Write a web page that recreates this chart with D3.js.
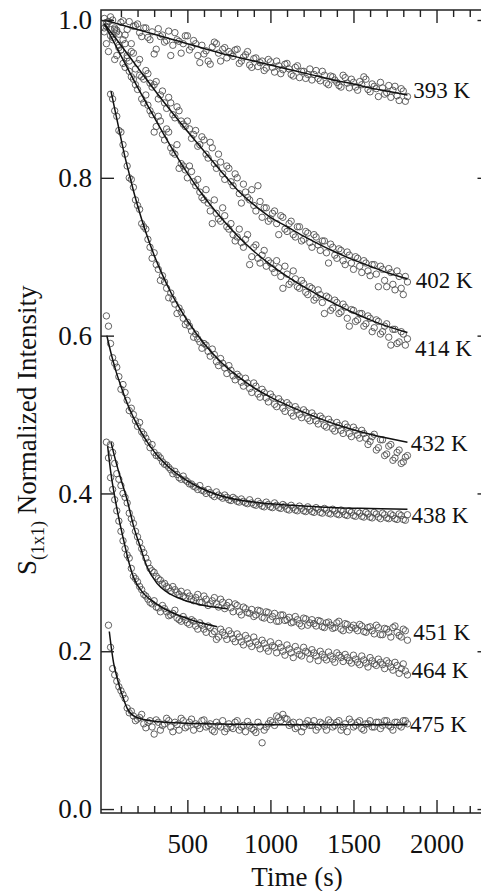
<!DOCTYPE html>
<html>
<head>
<meta charset="utf-8">
<script src="https://cdn.jsdelivr.net/npm/d3@7"></script>
<style>
  html, body { margin: 0; padding: 0; background: #fff; }
  svg { display: block; }
  text { font-family: "Liberation Serif", "Times New Roman", serif; fill: #111; }
</style>
</head>
<body>
<div id="container"></div>
<script>
// sample times (s): two interleaved sets
const times = [0,25,50,75,100,125,150,175,200,225,250,275,300,325,350,375,400,425,450,475,500,525,550,575,600,625,650,675,700,725,750,775,800,825,850,875,900,925,950,975,1000,1025,1050,1075,1100,1125,1150,1175,1200,1225,1250,1275,1300,1325,1350,1375,1400,1425,1450,1475,1500,1525,1550,1575,1600,1625,1650,1675,1700,1725,1750,1775,1800,1825];
const timesB = [12.5,37.5,62.5,87.5,112.5,137.5,162.5,187.5,212.5,237.5,262.5,287.5,312.5,337.5,362.5,387.5,412.5,437.5,462.5,487.5,512.5,537.5,562.5,587.5,612.5,637.5,662.5,687.5,712.5,737.5,762.5,787.5,812.5,837.5,862.5,887.5,912.5,937.5,962.5,987.5,1012.5,1037.5,1062.5,1087.5,1112.5,1137.5,1162.5,1187.5,1212.5,1237.5,1262.5,1287.5,1312.5,1337.5,1362.5,1387.5,1412.5,1437.5,1462.5,1487.5,1512.5,1537.5,1562.5,1587.5,1612.5,1637.5,1662.5,1687.5,1712.5,1737.5,1762.5,1787.5,1812.5];

const temps = ["393 K", "402 K", "414 K", "432 K", "438 K", "451 K", "464 K", "475 K"];

// measured intensities at `times`
const s393 = [1.002,0.998,1.000,0.987,0.997,0.981,0.998,0.992,0.995,0.979,
  0.990,0.975,0.957,0.989,0.981,0.974,0.955,0.984,0.973,0.970,
  0.980,0.966,0.970,0.946,0.957,0.948,0.966,0.970,0.948,0.965,
  0.960,0.954,0.963,0.948,0.956,0.943,0.951,0.941,0.948,0.939,
  0.947,0.934,0.942,0.937,0.945,0.931,0.940,0.927,0.935,0.931,
  0.924,0.936,0.923,0.930,0.918,0.928,0.921,0.915,0.927,0.914,
  0.921,0.911,0.918,0.925,0.909,0.916,0.903,0.914,0.908,0.902,
  0.916,0.898,0.910,0.903];
const s402 = [0.990,0.998,0.975,0.985,0.962,0.970,0.948,0.958,0.945,0.928,
  0.936,0.920,0.918,0.900,0.910,0.888,0.895,0.876,0.885,0.868,
  0.872,0.850,0.860,0.842,0.848,0.825,0.838,0.812,0.820,0.798,
  0.812,0.790,0.800,0.768,0.782,0.772,0.765,0.790,0.750,0.762,
  0.748,0.758,0.728,0.750,0.732,0.745,0.725,0.738,0.722,0.730,
  0.712,0.725,0.708,0.720,0.692,0.712,0.698,0.708,0.690,0.702,
  0.684,0.698,0.680,0.692,0.676,0.690,0.662,0.684,0.662,0.680,
  0.658,0.675,0.652,0.668];
const s414 = [0.985,0.960,0.978,0.955,0.962,0.940,0.935,0.925,0.912,0.900,
  0.905,0.885,0.858,0.878,0.855,0.862,0.838,0.830,0.812,0.815,
  0.800,0.808,0.790,0.782,0.772,0.768,0.742,0.755,0.745,0.752,
  0.735,0.728,0.725,0.718,0.722,0.690,0.712,0.698,0.702,0.688,
  0.692,0.680,0.686,0.660,0.678,0.668,0.672,0.660,0.666,0.652,
  0.660,0.648,0.652,0.628,0.648,0.635,0.642,0.630,0.636,0.612,
  0.632,0.620,0.628,0.615,0.622,0.610,0.618,0.605,0.615,0.588,
  0.608,0.592,0.602,0.596];
const s432 = [null,null,0.900,0.878,0.858,0.830,0.800,0.788,0.765,0.742,
  0.735,0.712,0.705,0.684,0.676,0.660,0.654,0.640,0.635,0.622,
  0.617,0.606,0.602,0.592,0.590,0.580,0.583,0.567,0.571,0.559,
  0.562,0.549,0.551,0.541,0.546,0.533,0.540,0.526,0.532,0.521,
  0.526,0.513,0.520,0.508,0.515,0.502,0.510,0.500,0.506,0.495,
  0.502,0.492,0.498,0.486,0.494,0.482,0.490,0.480,0.488,0.476,
  0.484,0.474,0.480,0.470,0.466,0.475,0.458,0.468,0.450,0.462,
  0.445,0.455,0.440,0.448];
const s438 = [null,0.612,0.572,0.560,0.532,0.528,0.505,0.500,0.485,0.478,
  0.470,0.458,0.452,0.448,0.440,0.436,0.430,0.428,0.420,0.422,
  0.415,0.412,0.408,0.410,0.403,0.405,0.398,0.402,0.396,0.398,
  0.392,0.395,0.390,0.393,0.388,0.392,0.386,0.390,0.384,0.389,
  0.383,0.388,0.382,0.386,0.380,0.385,0.379,0.384,0.378,0.383,
  0.377,0.382,0.376,0.381,0.375,0.380,0.374,0.379,0.373,0.378,
  0.372,0.377,0.371,0.376,0.370,0.376,0.370,0.375,0.369,0.374,
  0.368,0.374,0.367,0.373];
const s451 = [null,null,0.452,0.425,0.410,0.395,0.375,0.362,0.345,0.330,
  0.318,0.305,0.300,0.292,0.285,0.282,0.276,0.278,0.272,0.270,
  0.274,0.266,0.268,0.262,0.270,0.258,0.264,0.260,0.266,0.254,
  0.262,0.250,0.258,0.246,0.254,0.248,0.244,0.252,0.243,0.250,
  0.240,0.248,0.238,0.246,0.240,0.236,0.244,0.235,0.242,0.233,
  0.240,0.232,0.238,0.230,0.237,0.229,0.236,0.228,0.235,0.227,
  0.233,0.226,0.232,0.224,0.231,0.222,0.230,0.221,0.228,0.218,
  0.232,0.220,0.228,0.214];
const s464 = [null,0.445,0.405,0.378,0.352,0.330,0.318,0.295,0.288,0.278,
  0.270,0.262,0.264,0.255,0.258,0.250,0.246,0.252,0.240,0.244,
  0.236,0.240,0.232,0.236,0.228,0.232,0.222,0.215,0.228,0.220,
  0.226,0.216,0.222,0.212,0.220,0.210,0.218,0.208,0.214,0.204,
  0.212,0.205,0.210,0.200,0.208,0.198,0.206,0.196,0.205,0.198,
  0.202,0.194,0.200,0.192,0.199,0.190,0.198,0.192,0.196,0.188,
  0.195,0.186,0.194,0.185,0.192,0.184,0.190,0.183,0.188,0.180,
  0.186,0.172,0.184,0.170];
const s475 = [null,0.233,0.178,0.162,0.150,0.140,0.122,0.118,0.114,0.120,
  0.103,0.112,0.095,0.110,0.106,0.115,0.104,0.110,0.100,0.112,
  0.105,0.114,0.108,0.102,0.113,0.106,0.100,0.110,0.104,0.098,
  0.108,0.102,0.112,0.104,0.098,0.106,0.100,0.110,0.084,0.104,
  0.112,0.106,0.116,0.120,0.114,0.108,0.102,0.110,0.104,0.112,
  0.106,0.100,0.110,0.105,0.113,0.104,0.110,0.100,0.108,0.114,
  0.104,0.110,0.102,0.108,0.112,0.104,0.110,0.106,0.112,0.104,
  0.110,0.106,0.112,0.108];

// measured intensities at `timesB`
const s393b = [0.995,1.004,0.990,0.982,0.999,0.988,0.970,0.993,0.984,0.990,
  0.978,0.985,0.963,0.979,0.972,0.986,0.968,0.975,0.958,0.980,
  0.962,0.974,0.955,0.968,0.961,0.944,0.972,0.958,0.963,0.952,
  0.957,0.962,0.945,0.953,0.960,0.940,0.952,0.946,0.936,0.950,
  0.940,0.948,0.932,0.944,0.938,0.929,0.942,0.935,0.926,0.938,
  0.931,0.926,0.935,0.920,0.929,0.924,0.917,0.930,0.920,0.925,
  0.915,0.922,0.928,0.912,0.919,0.913,0.921,0.906,0.917,0.911,
  0.904,0.913,0.897];
const s402b = [0.992,0.980,0.988,0.965,0.975,0.955,0.960,0.938,0.950,0.925,
  0.932,0.915,0.922,0.905,0.895,0.902,0.880,0.890,0.872,0.865,
  0.862,0.855,0.840,0.852,0.830,0.845,0.818,0.830,0.805,0.815,
  0.795,0.805,0.780,0.792,0.775,0.785,0.758,0.770,0.762,0.745,
  0.755,0.742,0.752,0.735,0.742,0.728,0.738,0.720,0.732,0.718,
  0.728,0.715,0.720,0.705,0.716,0.702,0.710,0.695,0.706,0.692,
  0.700,0.688,0.695,0.682,0.690,0.678,0.688,0.670,0.685,0.665,
  0.682,0.660,0.675];
const s414b = [0.970,0.988,0.950,0.968,0.945,0.952,0.928,0.918,0.930,0.895,
  0.892,0.880,0.865,0.872,0.848,0.858,0.832,0.842,0.818,0.810,
  0.815,0.795,0.798,0.775,0.785,0.758,0.772,0.748,0.762,0.738,
  0.742,0.720,0.735,0.712,0.728,0.700,0.715,0.692,0.708,0.695,
  0.685,0.695,0.675,0.688,0.665,0.682,0.662,0.670,0.655,0.662,
  0.645,0.658,0.642,0.650,0.632,0.645,0.628,0.640,0.622,0.633,
  0.618,0.628,0.612,0.625,0.605,0.620,0.602,0.612,0.598,0.608,
  0.590,0.605,0.588];
const s432b = [null,0.906,0.885,0.860,0.842,0.815,0.798,0.772,0.760,0.738,
  0.722,0.698,0.690,0.670,0.668,0.648,0.646,0.628,0.630,0.614,
  0.612,0.598,0.596,0.584,0.588,0.574,0.576,0.562,0.565,0.552,
  0.556,0.544,0.548,0.536,0.540,0.528,0.536,0.522,0.528,0.516,
  0.522,0.510,0.516,0.504,0.512,0.498,0.506,0.496,0.503,0.492,
  0.498,0.488,0.495,0.484,0.490,0.479,0.486,0.476,0.484,0.472,
  0.480,0.470,0.476,0.462,0.472,0.455,0.468,0.448,0.460,0.442,
  0.452,0.438,0.446];
const s438b = [0.625,0.590,0.565,0.548,0.538,0.518,0.508,0.492,0.490,0.475,
  0.465,0.462,0.448,0.445,0.437,0.433,0.425,0.424,0.418,0.417,
  0.412,0.409,0.405,0.404,0.400,0.401,0.396,0.398,0.394,0.395,
  0.391,0.393,0.389,0.390,0.387,0.388,0.385,0.387,0.383,0.386,
  0.382,0.385,0.381,0.384,0.379,0.382,0.378,0.381,0.377,0.380,
  0.376,0.380,0.375,0.379,0.374,0.378,0.373,0.377,0.372,0.376,
  0.371,0.375,0.370,0.374,0.369,0.374,0.368,0.373,0.368,0.372,
  0.367,0.372,0.366];
const s451b = [null,0.462,0.438,0.418,0.400,0.388,0.368,0.352,0.338,0.325,
  0.312,0.302,0.295,0.290,0.286,0.280,0.282,0.275,0.276,0.268,
  0.270,0.264,0.272,0.262,0.266,0.260,0.268,0.256,0.262,0.258,
  0.255,0.260,0.250,0.256,0.249,0.253,0.246,0.251,0.242,0.249,
  0.244,0.238,0.246,0.239,0.243,0.237,0.240,0.232,0.241,0.236,
  0.235,0.239,0.231,0.236,0.233,0.230,0.238,0.226,0.234,0.230,
  0.229,0.234,0.225,0.230,0.226,0.233,0.221,0.229,0.224,0.230,
  0.224,0.218,0.226];
const s464b = [0.465,0.420,0.392,0.365,0.340,0.322,0.305,0.292,0.282,0.272,
  0.266,0.260,0.256,0.250,0.254,0.245,0.248,0.242,0.238,0.240,
  0.234,0.238,0.228,0.233,0.224,0.230,0.225,0.218,0.224,0.215,
  0.222,0.212,0.218,0.208,0.216,0.206,0.212,0.203,0.210,0.200,
  0.207,0.198,0.205,0.195,0.203,0.192,0.201,0.194,0.200,0.190,
  0.198,0.188,0.196,0.189,0.194,0.186,0.195,0.187,0.192,0.185,
  0.190,0.183,0.189,0.180,0.188,0.182,0.186,0.178,0.185,0.176,
  0.182,0.178,0.175];
const s475b = [null,0.205,0.170,0.155,0.145,0.128,0.124,0.112,0.116,0.108,
  0.110,0.104,0.113,0.100,0.108,0.112,0.098,0.107,0.115,0.103,
  0.110,0.100,0.106,0.112,0.104,0.108,0.098,0.106,0.112,0.102,
  0.104,0.110,0.100,0.106,0.111,0.102,0.097,0.105,0.100,0.108,
  0.110,0.118,0.112,0.115,0.106,0.110,0.104,0.098,0.108,0.106,
  0.112,0.104,0.108,0.100,0.110,0.106,0.112,0.104,0.098,0.110,
  0.106,0.112,0.100,0.108,0.104,0.110,0.102,0.112,0.106,0.100,
  0.110,0.104,0.112];

// fitted curves [time, value]
const fit393 = [[0,1.0],[100,0.994],[200,0.988],[300,0.982],[400,0.976],[500,0.970],[600,0.964],[700,0.958],[800,0.953],[900,0.948],[1000,0.943],[1100,0.938],[1200,0.933],[1300,0.928],[1400,0.923],[1500,0.919],[1600,0.914],[1700,0.910],[1825,0.905]];
const fit402 = [[0,0.995],[50,0.982],[100,0.968],[200,0.940],[300,0.912],[400,0.885],[500,0.859],[600,0.834],[700,0.809],[800,0.785],[900,0.766],[1000,0.750],[1100,0.738],[1200,0.726],[1300,0.715],[1400,0.705],[1500,0.696],[1600,0.688],[1700,0.680],[1825,0.672]];
const fit414 = [[0,0.995],[50,0.975],[100,0.955],[200,0.915],[300,0.877],[400,0.840],[500,0.806],[600,0.776],[700,0.750],[800,0.727],[900,0.707],[1000,0.690],[1100,0.675],[1200,0.662],[1300,0.650],[1400,0.639],[1500,0.629],[1600,0.620],[1700,0.612],[1825,0.604]];
const fit432 = [[40,0.910],[60,0.890],[80,0.870],[100,0.850],[125,0.826],[150,0.805],[175,0.784],[200,0.765],[250,0.731],[300,0.702],[350,0.677],[400,0.655],[450,0.636],[500,0.619],[600,0.590],[700,0.567],[800,0.549],[900,0.534],[1000,0.522],[1200,0.503],[1400,0.487],[1600,0.475],[1825,0.465]];
const fit438 = [[15,0.600],[40,0.578],[70,0.555],[100,0.536],[150,0.508],[200,0.486],[250,0.468],[300,0.453],[350,0.441],[400,0.431],[500,0.416],[600,0.405],[700,0.397],[800,0.392],[900,0.389],[1000,0.387],[1200,0.384],[1400,0.382],[1600,0.381],[1825,0.380]];
const fit451 = [[40,0.465],[70,0.440],[100,0.418],[137,0.392],[177,0.358],[217,0.332],[257,0.307],[317,0.286],[378,0.275],[478,0.265],[578,0.259],[740,0.254]];
const fit464 = [[20,0.460],[40,0.425],[66,0.392],[86,0.370],[116,0.341],[145,0.315],[175,0.294],[237,0.273],[300,0.262],[378,0.252],[480,0.243],[578,0.236],[680,0.231]];
const fit475 = [[30,0.225],[45,0.200],[56,0.185],[75,0.168],[96,0.152],[115,0.140],[137,0.128],[165,0.120],[197,0.116],[250,0.113],[378,0.110],[600,0.108],[1000,0.107],[1400,0.107],[1825,0.107]];

// label anchors
const labelTimes = [1860, 1875, 1870, 1845, 1850, 1860, 1850, 1840];
const labelValues = [0.912, 0.670, 0.584, 0.464, 0.373, 0.224, 0.176, 0.108];

const yTicks = [0.0, 0.2, 0.4, 0.6, 0.8, 1.0];
const xTicks = [500, 1000, 1500, 2000];

const seriesA = [s393, s402, s414, s432, s438, s451, s464, s475];
const seriesB = [s393b, s402b, s414b, s432b, s438b, s451b, s464b, s475b];
const fits = [fit393, fit402, fit414, fit432, fit438, fit451, fit464, fit475];

const w = 481;
const h = 891;

const svg = d3.select("#container")
  .append("svg")
  .attr("width", w)
  .attr("height", h);

const x = d3.scaleLinear().domain([-20, 2325]).range([101, 490.5]);
const y = d3.scaleLinear().domain([-0.005, 1.0127]).range([813, 10]);

// points
seriesA.forEach((vals, k) => {
  const pts = times.map((t, i) => [t, vals[i]])
    .concat(timesB.map((t, i) => [t, seriesB[k][i]]))
    .filter((d) => d[1] != null);
  svg.append("g")
    .selectAll("circle")
    .data(pts)
    .enter().append("circle")
    .attr("cx", (d) => x(d[0]))
    .attr("cy", (d) => y(d[1]))
    .attr("r", 3.2)
    .attr("fill", "none")
    .attr("stroke", "#505050")
    .attr("stroke-width", 0.9);
});

// fits
const line = d3.line()
  .x((d) => x(d[0]))
  .y((d) => y(d[1]))
  .curve(d3.curveMonotoneX);

fits.forEach((f) => {
  svg.append("path")
    .attr("d", line(f))
    .attr("fill", "none")
    .attr("stroke", "#111")
    .attr("stroke-width", 1.5);
});

// labels
svg.append("g")
  .selectAll("text")
  .data(temps)
  .enter().append("text")
  .attr("x", (d, i) => x(labelTimes[i]))
  .attr("y", (d, i) => y(labelValues[i]))
  .attr("dy", "0.35em")
  .attr("font-size", 23)
  .text((d) => d);

// frame
svg.append("rect")
  .attr("x", 101).attr("y", 10)
  .attr("width", 389.5).attr("height", 803)
  .attr("fill", "none")
  .attr("stroke", "#222")
  .attr("stroke-width", 1.5);

const minorX = d3.range(100, 2301, 100).filter((d) => d % 500 !== 0);

const bottomMinor = d3.axisBottom(x).tickValues(minorX).tickSize(-7).tickSizeOuter(0).tickFormat("");
const bottomMajor = d3.axisBottom(x).tickValues(xTicks).tickSize(-13).tickSizeOuter(0).tickPadding(21).tickFormat(d3.format("d"));
const topMinor = d3.axisTop(x).tickValues(minorX).tickSize(-7).tickSizeOuter(0).tickFormat("");
const topMajor = d3.axisTop(x).tickValues(xTicks).tickSize(-13).tickSizeOuter(0).tickFormat("");
const leftAxis = d3.axisLeft(y).tickValues(yTicks).tickSize(-13).tickSizeOuter(0).tickPadding(9).tickFormat(d3.format(".1f"));
const rightAxis = d3.axisRight(y).tickValues(yTicks).tickSize(-13).tickSizeOuter(0).tickFormat("");

const axes = [
  [bottomMinor, "translate(0,813)"],
  [bottomMajor, "translate(0,813)"],
  [topMinor, "translate(0,10)"],
  [topMajor, "translate(0,10)"],
  [leftAxis, "translate(101,0)"],
  [rightAxis, "translate(490.5,0)"]
];

axes.forEach(([ax, tr]) => {
  const g = svg.append("g").attr("transform", tr).call(ax);
  g.select(".domain").remove();
  g.selectAll("line").attr("stroke", "#222").attr("stroke-width", 1.4);
  g.selectAll("text")
    .attr("font-size", 27)
    .attr("font-family", "Liberation Serif, Times New Roman, serif")
    .attr("fill", "#111");
});

// axis titles
svg.append("text")
  .attr("x", 297)
  .attr("y", 886)
  .attr("text-anchor", "middle")
  .attr("font-size", 27)
  .text("Time (s)");

const yTitle = svg.append("text")
  .attr("transform", "translate(36,575) rotate(-90)")
  .attr("font-size", 27);
yTitle.append("tspan").text("S");
yTitle.append("tspan").attr("font-size", 18).attr("dy", 8).text("(1x1)");
yTitle.append("tspan").attr("dy", -8).text(" Normalized Intensity");
</script>
</body>
</html>
